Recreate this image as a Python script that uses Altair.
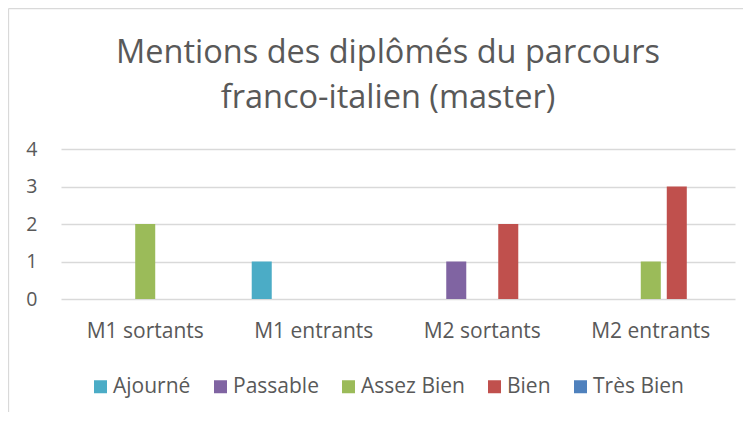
import altair as alt
import pandas as pd

categories = ["M1 sortants", "M1 entrants", "M2 sortants", "M2 entrants"]
mentions = ["Ajourné", "Passable", "Assez Bien", "Bien", "Très Bien"]
ajourne = [0, 1, 0, 0]
passable = [0, 0, 1, 0]
assez_bien = [2, 0, 0, 1]
bien = [0, 0, 2, 3]
tres_bien = [0, 0, 0, 0]
colors = ["#4BACC6", "#8064A2", "#9BBB59", "#C0504D", "#4F81BD"]
y_ticks = [0, 1, 2, 3, 4]
title_lines = ["Mentions des diplômés du parcours", "franco-italien (master)"]

series = [ajourne, passable, assez_bien, bien, tres_bien]
rows = []
for m, vals in zip(mentions, series):
    for c, v in zip(categories, vals):
        rows.append({"categorie": c, "mention": m, "valeur": v})
df = pd.DataFrame(rows)

FONT = "Open Sans"
GREY = "#595959"

bars = alt.Chart(df).mark_bar().encode(
    x=alt.X(
        "categorie:N",
        sort=categories,
        scale=alt.Scale(paddingInner=0.2285, paddingOuter=0.114),
        axis=alt.Axis(
            title=None, labelAngle=0, ticks=False, domain=False, grid=False,
            labelFontSize=21, labelColor=GREY, labelFont=FONT, labelPadding=21,
        ),
    ),
    xOffset=alt.XOffset(
        "mention:N",
        sort=mentions,
        scale=alt.Scale(domain=mentions, paddingInner=0.23, paddingOuter=0.115),
    ),
    y=alt.Y(
        "valeur:Q",
        scale=alt.Scale(domain=[0, 4], nice=False),
        axis=alt.Axis(
            values=y_ticks, title=None, ticks=False, domain=False,
            grid=True, gridColor="#d9d9d9", gridWidth=1.3,
            labelFontSize=19.5, labelColor=GREY, labelFont=FONT, labelPadding=24,
        ),
    ),
    color=alt.Color(
        "mention:N",
        sort=mentions,
        scale=alt.Scale(domain=mentions, range=colors),
        legend=alt.Legend(
            title=None, orient="none", direction="horizontal", columns=5,
            legendX=29, legendY=227, padding=0,
            symbolType="square", symbolSize=169, symbolStrokeWidth=0,
            labelFontSize=21, labelColor=GREY, labelFont=FONT,
            labelOffset=2, columnPadding=19,
        ),
    ),
)

frame_df = pd.DataFrame({"k": [0]})
frame_left = alt.Chart(frame_df).mark_rule(color="#d9d9d9", strokeWidth=1.3).encode(
    x=alt.value(-52.5), y=alt.value(-140.5), y2=alt.value(290)
)
frame_top = alt.Chart(frame_df).mark_rule(color="#d9d9d9", strokeWidth=1.3).encode(
    x=alt.value(-52.5), x2=alt.value(684), y=alt.value(-140.5)
)

chart = alt.layer(bars, frame_left, frame_top).properties(
    width=674,
    height=150,
    autosize=alt.AutoSizeParams(type="none"),
    padding={"left": 53, "top": 141, "right": 8, "bottom": 113},
    title=alt.TitleParams(
        text=title_lines, fontSize=32.5, font=FONT, color=GREY, fontWeight="normal",
        anchor="middle", lineHeight=45, offset=-107, dx=-10,
    ),
).configure_view(stroke=None)

chart.save("out.html", embed_options={"renderer": "svg", "actions": False})
